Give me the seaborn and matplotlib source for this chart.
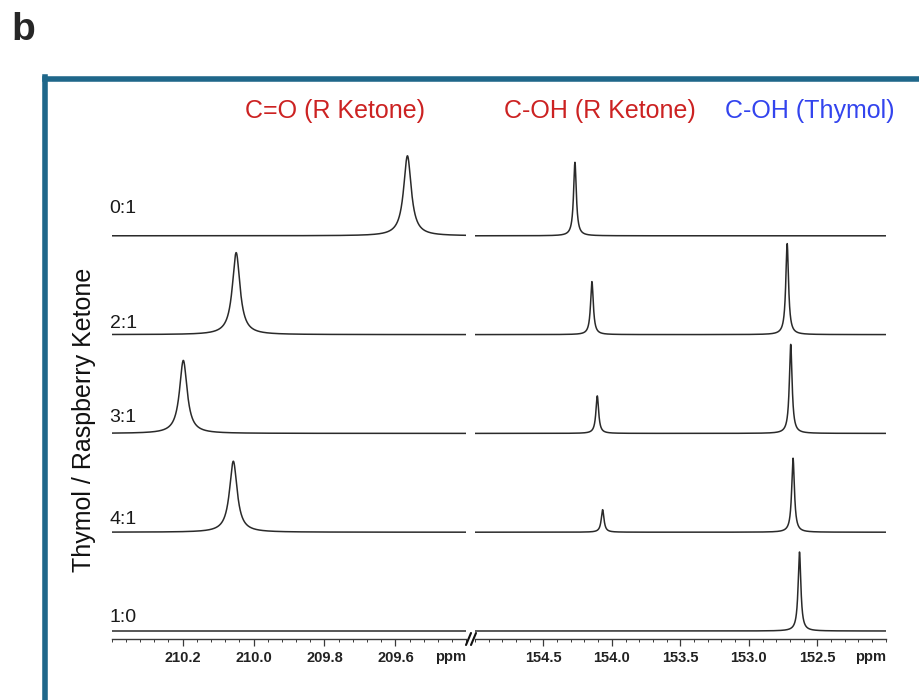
import numpy as np
import pandas as pd
import seaborn as sns
import matplotlib.pyplot as plt
from matplotlib.lines import Line2D
from matplotlib.ticker import FixedLocator, MultipleLocator

sns.set_style("white")
plt.rcParams["font.family"] = ["Liberation Sans", "DejaVu Sans"]

# Mixtures (Thymol : Raspberry Ketone), top to bottom
ratios = ["0:1", "2:1", "3:1", "4:1", "1:0"]

# Carbonyl carbon of raspberry ketone (left window, ppm)
co_shift = [209.566, 210.049, 210.198, 210.057, np.nan]
co_height = [80.0, 82.0, 73.0, 71.0, 0.0]

# C-OH carbon of raspberry ketone (right window, ppm)
rk_oh_shift = [154.269, 154.145, 154.106, 154.067, np.nan]
rk_oh_height = [73.5, 53.0, 37.5, 22.5, 0.0]

# C-OH carbon of thymol (right window, ppm)
th_oh_shift = [np.nan, 152.720, 152.694, 152.677, 152.630]
th_oh_height = [0.0, 91.0, 89.0, 74.0, 79.0]

# Line widths (FWHM, ppm)
co_fwhm = 0.026
oh_fwhm = 0.024

# Axis windows and ticks
left_window = (210.4, 209.4)
right_window = (155.0, 152.0)
left_major = [210.2, 210.0, 209.8, 209.6]
right_major = [154.5, 154.0, 153.5, 153.0, 152.5]

header_texts = ["C=O (R Ketone)", "C-OH (R Ketone)", "C-OH (Thymol)"]
y_title = "Thymol / Raspberry Ketone"


def lorentz(x, center, height, fwhm):
    if not np.isfinite(center) or height == 0:
        return np.zeros_like(x)
    g = fwhm / 2.0
    return height * g**2 / ((x - center) ** 2 + g**2)


W, H = 919, 700
fig = plt.figure(figsize=(W / 100, H / 100), dpi=100)


def fx(px):
    return px / W


def fy(py):
    return 1 - py / H


ax_bottom = fy(639)
ax_h = 500 / H
axL = fig.add_axes([fx(111.7), ax_bottom, fx(354.6), ax_h])
axR = fig.add_axes([fx(474.8), ax_bottom, fx(411.0), ax_h])

xl = np.linspace(left_window[0], left_window[1], 3000)
xr = np.linspace(right_window[0], right_window[1], 6000)

n = len(ratios)
rows = []
for i, r in enumerate(ratios):
    offset = 8 + (n - 1 - i) * 98.8
    yl = offset + lorentz(xl, co_shift[i], co_height[i], co_fwhm)
    yr = (offset
          + lorentz(xr, rk_oh_shift[i], rk_oh_height[i], oh_fwhm)
          + lorentz(xr, th_oh_shift[i], th_oh_height[i], oh_fwhm))
    rows.append(pd.DataFrame({"ppm": xl, "intensity": yl, "ratio": r, "window": "left"}))
    rows.append(pd.DataFrame({"ppm": xr, "intensity": yr, "ratio": r, "window": "right"}))
spec = pd.concat(rows, ignore_index=True)

line_color = "#2a2a2a"
for ax, win in [(axL, "left"), (axR, "right")]:
    sub = spec[spec["window"] == win]
    sns.lineplot(data=sub, x="ppm", y="intensity", units="ratio", estimator=None,
                 color=line_color, lw=1.1, sort=False, ax=ax, legend=False)

axL.set_xlim(*left_window)
axR.set_xlim(*right_window)
for ax in (axL, axR):
    ax.set_ylim(0, 500)
    ax.set_facecolor("none")
    ax.set_xlabel("")
    ax.set_ylabel("")
    ax.set_yticks([])
    for s in ("top", "left", "right"):
        ax.spines[s].set_visible(False)
    ax.spines["bottom"].set_color("#3a3a3a")
    ax.spines["bottom"].set_linewidth(1.0)
    ax.tick_params(axis="x", which="major", direction="out", length=5, width=0.9,
                   color="#3a3a3a", pad=4, labelsize=10.5, labelcolor="#222222")
    ax.tick_params(axis="x", which="minor", direction="out", length=2.5, width=0.7,
                   color="#3a3a3a")
    ax.tick_params(axis="x", which="both", bottom=True)

axL.xaxis.set_major_locator(FixedLocator(left_major))
axL.xaxis.set_minor_locator(MultipleLocator(0.04))
axL.set_xticklabels([f"{v:.1f}" for v in left_major], fontweight="bold")
axR.xaxis.set_major_locator(FixedLocator(right_major))
axR.xaxis.set_minor_locator(MultipleLocator(0.1))
axR.set_xticklabels([f"{v:.1f}" for v in right_major], fontweight="bold")

# "ppm" unit labels at the right end of each window
for ax in (axL, axR):
    ax.text(1.0, -0.037, "ppm", transform=ax.transAxes, ha="right", va="center",
            fontsize=10.5, fontweight="bold", color="#222222")

# Mixture labels above each baseline
label_lift = [19, 3, 7, 4, 5]
for i, r in enumerate(ratios):
    offset = 8 + (n - 1 - i) * 98.8
    axL.text(-0.006, offset + label_lift[i], r, transform=axL.get_yaxis_transform(),
             ha="left", va="bottom", fontsize=14, color="#1a1a1a")

# Axis break marker
for dx in (-2.5, 2.5):
    fig.add_artist(Line2D([fx(468.5 + dx), fx(473.5 + dx)], [fy(645), fy(633)],
                          color="#111111", lw=1.5))

# Peak group headers
fig.text(fx(335), fy(111), header_texts[0], color="#cc2222", fontsize=18,
         ha="center", va="center")
fig.text(fx(600), fy(111), header_texts[1], color="#cc2222", fontsize=18,
         ha="center", va="center")
fig.text(fx(810), fy(111), header_texts[2], color="#3344ee", fontsize=18,
         ha="center", va="center")

fig.text(fx(84), fy(420), y_title, rotation=90, fontsize=18, color="#111111",
         ha="center", va="center")

# Panel letter and frame
fig.text(fx(11), fy(12), "b", fontsize=28, fontweight="bold", ha="left", va="top")
frame_color = "#1f678a"
fig.add_artist(Line2D([fx(44.5), fx(44.5)], [fy(76.5), 0], color=frame_color, lw=4.0,
                      solid_capstyle="projecting"))
fig.add_artist(Line2D([fx(44.5), 1.0], [fy(78.8), fy(78.8)], color=frame_color, lw=4.0,
                      solid_capstyle="projecting"))

fig.savefig("out.png", dpi=100)
